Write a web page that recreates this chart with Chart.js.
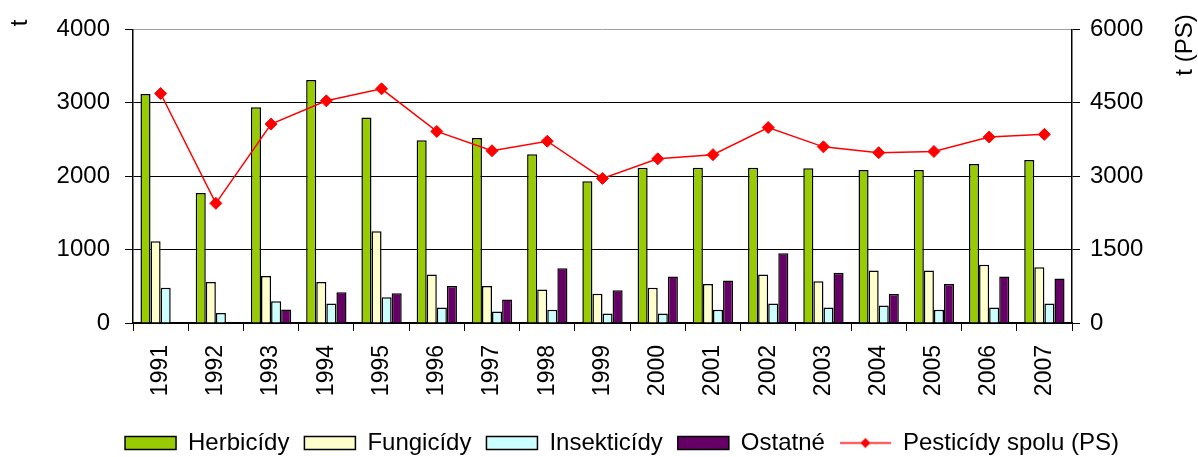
<!DOCTYPE html>
<html>
<head>
<meta charset="utf-8">
<script src="https://cdn.jsdelivr.net/npm/chart.js@4/dist/chart.umd.min.js"></script>
<style>
  html, body { margin: 0; padding: 0; background: #fff; overflow: hidden; }
  #wrap { width: 1198px; height: 465px; }
</style>
</head>
<body>
<div id="wrap"><canvas id="chart" width="1198" height="465"></canvas></div>
<script>
// data (t)
const years = ["1991", "1992", "1993", "1994", "1995", "1996", "1997", "1998", "1999",
    "2000", "2001", "2002", "2003", "2004", "2005", "2006", "2007"];
const herbicidy = [3120, 1770, 2940, 3310, 2800, 2490, 2520, 2300, 1930, 2115, 2115, 2115, 2110, 2085, 2085, 2165, 2220];
const fungicidy = [1115, 560, 640, 560, 1250, 660, 505, 455, 400, 480, 530, 660, 570, 715, 715, 795, 760];
const insekticidy = [480, 135, 295, 265, 350, 210, 155, 180, 130, 130, 180, 265, 210, 240, 180, 210, 265];
const ostatne = [null, null, 185, 420, 405, 505, 320, 745, 445, 635, 580, 950, 685, 395, 530, 635, 605];
const spolu = [4690, 2445, 4065, 4540, 4785, 3915, 3520, 3715, 2955, 3355, 3440, 3995, 3600, 3480, 3505, 3800, 3855];

const leftTicks = [0, 1000, 2000, 3000, 4000];
const rightTicks = [0, 1500, 3000, 4500, 6000];

const FONT = "'Liberation Sans', Arial, sans-serif";

// legend sample for the line: red line with a diamond
function lineSample() {
    const c = document.createElement("canvas");
    c.width = 51; c.height = 13;
    const g = c.getContext("2d");
    g.strokeStyle = "#ff0000";
    g.lineWidth = 1.5;
    g.beginPath(); g.moveTo(0, 6.5); g.lineTo(51, 6.5); g.stroke();
    g.fillStyle = "#ff0000";
    g.beginPath(); g.moveTo(25.5, 1.5); g.lineTo(30.5, 6.5); g.lineTo(25.5, 11.5); g.lineTo(20.5, 6.5); g.closePath(); g.fill();
    return c;
}

// axis titles, rotated bottom-to-top
const axisTitles = {
    id: "axisTitles",
    afterDraw(chart) {
        const ctx = chart.ctx;
        ctx.save();
        ctx.fillStyle = "#000";
        ctx.font = "24px " + FONT;
        ctx.textAlign = "center";
        ctx.textBaseline = "middle";
        ctx.translate(20, 23);
        ctx.rotate(-Math.PI / 2);
        ctx.fillText("t", 0, 0);
        ctx.restore();

        ctx.save();
        ctx.fillStyle = "#000";
        ctx.font = "24px " + FONT;
        ctx.textAlign = "center";
        ctx.textBaseline = "middle";
        ctx.translate(1185, 45);
        ctx.rotate(-Math.PI / 2);
        ctx.fillText("t (PS)", 0, 0);
        ctx.restore();
    }
};

const barBase = { type: "bar", borderColor: "#000", borderWidth: 1.5, yAxisID: "y", order: 1,
    pointStyle: "rect", categoryPercentage: 0.73, barPercentage: 1.0 };

new Chart(document.getElementById("chart"), {
    data: {
        labels: years,
        datasets: [
            { ...barBase, label: "Herbicídy", data: herbicidy, backgroundColor: "#99cc00" },
            { ...barBase, label: "Fungicídy", data: fungicidy, backgroundColor: "#ffffcc" },
            { ...barBase, label: "Insekticídy", data: insekticidy, backgroundColor: "#ccffff" },
            { ...barBase, label: "Ostatné", data: ostatne, backgroundColor: "#660066" },
            {
                type: "line", label: "Pesticídy spolu (PS)", data: spolu, yAxisID: "y1", order: 0,
                borderColor: "#ff0000", backgroundColor: "#ff0000", borderWidth: 1.5, tension: 0,
                pointStyle: "rectRot", pointRadius: 6, pointBackgroundColor: "#ff0000",
                pointBorderColor: "#ff0000", pointBorderWidth: 1
            }
        ]
    },
    options: {
        responsive: false,
        animation: false,
        devicePixelRatio: 1,
        layout: { padding: { top: 28, left: 46, right: 0, bottom: 0 } },
        plugins: {
            tooltip: { enabled: false },
            legend: {
                position: "bottom",
                labels: {
                    usePointStyle: true,
                    pointStyleWidth: 51,
                    boxHeight: 13,
                    padding: 15,
                    color: "#000",
                    font: { family: FONT, size: 24 },
                    sort: (a, b) => a.datasetIndex - b.datasetIndex,
                    generateLabels(chart) {
                        const items = Chart.defaults.plugins.legend.labels.generateLabels(chart);
                        items.forEach(it => {
                            if (it.datasetIndex === 4) it.pointStyle = lineSample();
                            else it.lineWidth = 1.5;
                        });
                        return items;
                    }
                }
            }
        },
        scales: {
            x: {
                afterFit: s => { s.height = 93; },
                grid: { drawOnChartArea: false, drawTicks: true, tickLength: 8, tickColor: "#000", offset: true },
                border: { color: "#000", width: 1.5 },
                ticks: { minRotation: 90, maxRotation: 90, padding: 14, color: "#000",
                    font: { family: FONT, size: 23 } }
            },
            y: {
                position: "left",
                min: 0, max: 4000,
                afterFit: s => { s.width = 87; },
                afterBuildTicks: s => { s.ticks = leftTicks.map(v => ({ value: v })); },
                grid: {
                    color: c => (c.tick && c.tick.value === 4000 ? "#a0a0a0" : "#000"),
                    lineWidth: 1, tickLength: 8, tickColor: "#000"
                },
                border: { color: "#000", width: 1.5 },
                ticks: { padding: 15, color: "#000", font: { family: FONT, size: 24 },
                    callback: v => String(v) }
            },
            y1: {
                position: "right",
                min: 0, max: 6000,
                afterFit: s => { s.width = 126; },
                afterBuildTicks: s => { s.ticks = rightTicks.map(v => ({ value: v })); },
                grid: { drawOnChartArea: false, tickLength: 8, tickColor: "#000" },
                border: { color: "#000", width: 1.5 },
                ticks: { padding: 10, color: "#000", font: { family: FONT, size: 24 },
                    callback: v => String(v) }
            }
        }
    },
    plugins: [axisTitles]
});
</script>
</body>
</html>
